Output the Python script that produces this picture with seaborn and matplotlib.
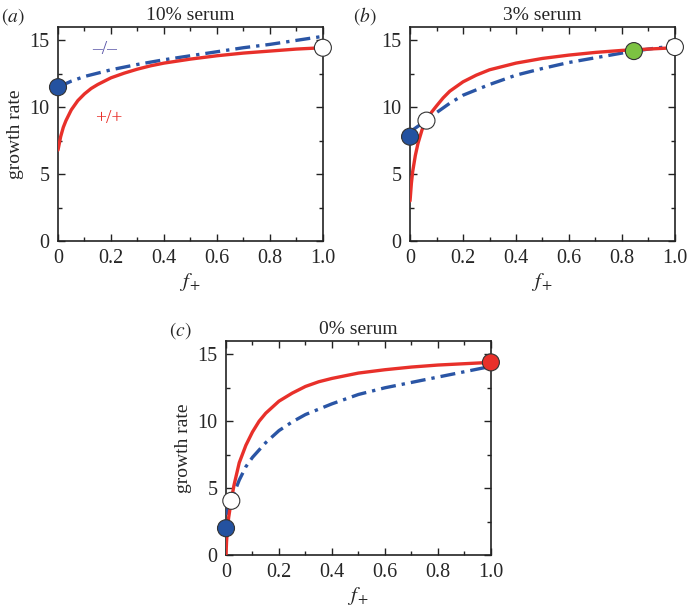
import numpy as np
import pandas as pd
import matplotlib
matplotlib.use("Agg")
import matplotlib.pyplot as plt
import seaborn as sns
from matplotlib.ticker import MultipleLocator

# =========================
# Data
# =========================
# (a) 10% serum
a_red_x = [0, 0.005, 0.01, 0.02, 0.03, 0.05, 0.075, 0.1, 0.125, 0.15, 0.2, 0.25, 0.3, 0.35, 0.4, 0.5, 0.6, 0.7, 0.8, 0.9, 1.0]
a_red_y = [6.8, 7.3, 7.8, 8.5, 9.0, 9.8, 10.5, 11.0, 11.4, 11.7, 12.2, 12.55, 12.85, 13.1, 13.3, 13.6, 13.85, 14.05, 14.2, 14.35, 14.45]
a_blue_x = [0, 0.05, 0.1, 0.15, 0.2, 0.3, 0.4, 0.5, 0.6, 0.7, 0.8, 0.9, 1.0]
a_blue_y = [11.5, 11.95, 12.3, 12.55, 12.8, 13.2, 13.55, 13.85, 14.15, 14.45, 14.7, 15.0, 15.3]

# (b) 3% serum
b_red_x = [0, 0.005, 0.01, 0.02, 0.03, 0.045, 0.06, 0.08, 0.1, 0.125, 0.15, 0.2, 0.25, 0.3, 0.35, 0.4, 0.5, 0.6, 0.7, 0.8, 0.9, 1.0]
b_red_y = [3.0, 4.3, 5.2, 6.4, 7.3, 8.3, 9.0, 9.6, 10.1, 10.7, 11.2, 11.9, 12.4, 12.8, 13.05, 13.3, 13.65, 13.9, 14.1, 14.25, 14.35, 14.45]
b_blue_x = [0.01, 0.06, 0.1, 0.15, 0.2, 0.25, 0.3, 0.4, 0.5, 0.6, 0.7, 0.8, 0.9, 1.0]
b_blue_y = [8.3, 9.0, 9.6, 10.3, 10.9, 11.3, 11.7, 12.4, 12.9, 13.35, 13.7, 14.05, 14.35, 14.6]

# (c) 0% serum
c_red_x = [0, 0.002, 0.005, 0.01, 0.02, 0.03, 0.05, 0.075, 0.1, 0.125, 0.15, 0.2, 0.25, 0.3, 0.35, 0.4, 0.5, 0.6, 0.7, 0.8, 0.9, 1.0]
c_red_y = [0, 1.0, 1.8, 2.8, 4.1, 5.2, 6.9, 8.2, 9.2, 10.0, 10.6, 11.5, 12.1, 12.6, 12.95, 13.2, 13.6, 13.85, 14.05, 14.2, 14.3, 14.4]
c_blue_x = [0, 0.02, 0.05, 0.075, 0.1, 0.15, 0.2, 0.25, 0.3, 0.4, 0.5, 0.6, 0.7, 0.8, 0.9, 1.0]
c_blue_y = [3.0, 4.1, 5.6, 6.6, 7.3, 8.4, 9.3, 9.95, 10.5, 11.3, 12.0, 12.5, 12.9, 13.3, 13.7, 14.1]

# markers
a_pts_x = [0, 1.0]
a_pts_y = [11.5, 14.45]
a_pts_c = ["#2452a0", "white"]
b_pts_x = [0, 0.062, 0.845, 1.0]
b_pts_y = [7.8, 9.0, 14.2, 14.5]
b_pts_c = ["#2452a0", "white", "#7cc242", "white"]
c_pts_x = [0, 0.02, 1.0]
c_pts_y = [2.0, 4.05, 14.4]
c_pts_c = ["#2452a0", "white", "#e8302a"]

titles = ["10% serum", "3% serum", "0% serum"]
letters = ["a", "b", "c"]
xtick_vals = [0, 0.2, 0.4, 0.6, 0.8, 1.0]
xtick_labels = ["0", "0.2", "0.4", "0.6", "0.8", "1.0"]
ytick_vals = [0, 5, 10, 15]

RED = "#e8302a"
BLUE = "#2a55a5"

sns.set_style("ticks")
plt.rcParams["font.family"] = ["Liberation Serif", "DejaVu Serif"]
plt.rcParams["mathtext.fontset"] = "stix"

fig = plt.figure(figsize=(6.88, 6.08), dpi=100)
w, h = 0.385, 0.352
axes = [
    fig.add_axes([0.0843, 0.6036, w, h]),
    fig.add_axes([0.596, 0.6036, w, h]),
    fig.add_axes([0.3285, 0.0872, w, h]),
]

panels = [
    (a_red_x, a_red_y, a_blue_x, a_blue_y, a_pts_x, a_pts_y, a_pts_c),
    (b_red_x, b_red_y, b_blue_x, b_blue_y, b_pts_x, b_pts_y, b_pts_c),
    (c_red_x, c_red_y, c_blue_x, c_blue_y, c_pts_x, c_pts_y, c_pts_c),
]

for i, (ax, p) in enumerate(zip(axes, panels)):
    rx, ry, bx, by, px, py, pc = p
    sns.lineplot(x=bx, y=by, ax=ax, color=BLUE, lw=2.4,
                 linestyle=(0, (4.5, 1.8, 1.0, 1.8)), zorder=3)
    sns.lineplot(x=rx, y=ry, ax=ax, color=RED, lw=2.4, zorder=4)
    ax.scatter(px, py, s=150, c=pc, edgecolors="#333333", linewidths=0.8,
               zorder=6, clip_on=False)

    ax.set_xlim(0, 1.0)
    ax.set_ylim(0, 16)
    ax.set_xticks(xtick_vals)
    ax.set_xticklabels(xtick_labels)
    ax.set_yticks(ytick_vals)
    ax.xaxis.set_minor_locator(MultipleLocator(0.1))
    ax.yaxis.set_minor_locator(MultipleLocator(2.5))
    ax.tick_params(which="both", direction="in", top=True, right=True,
                   labelsize=14.5, width=1.0, color="#222222")
    ax.tick_params(which="major", length=5, pad=6)
    ax.tick_params(which="minor", length=3)
    for s in ax.spines.values():
        s.set_linewidth(1.2)
        s.set_color("#222222")

    ax.set_xlabel("$f_+$", fontsize=15, labelpad=2)
    if i != 1:
        ax.set_ylabel("growth rate", fontsize=14, labelpad=4)
    else:
        ax.set_ylabel("")
    ax.set_title(titles[i], fontsize=14, pad=5)
    ax.text(-0.215, 1.05, "$(\\mathit{" + letters[i] + "})$", transform=ax.transAxes,
            fontsize=14, ha="left", va="center")

axes[0].text(0.13, 14.0, "\u2013/\u2013", color="#5a56a8", fontsize=14)
axes[0].text(0.14, 8.8, "+/+", color=RED, fontsize=14)

plt.savefig("out.png", dpi=100)
